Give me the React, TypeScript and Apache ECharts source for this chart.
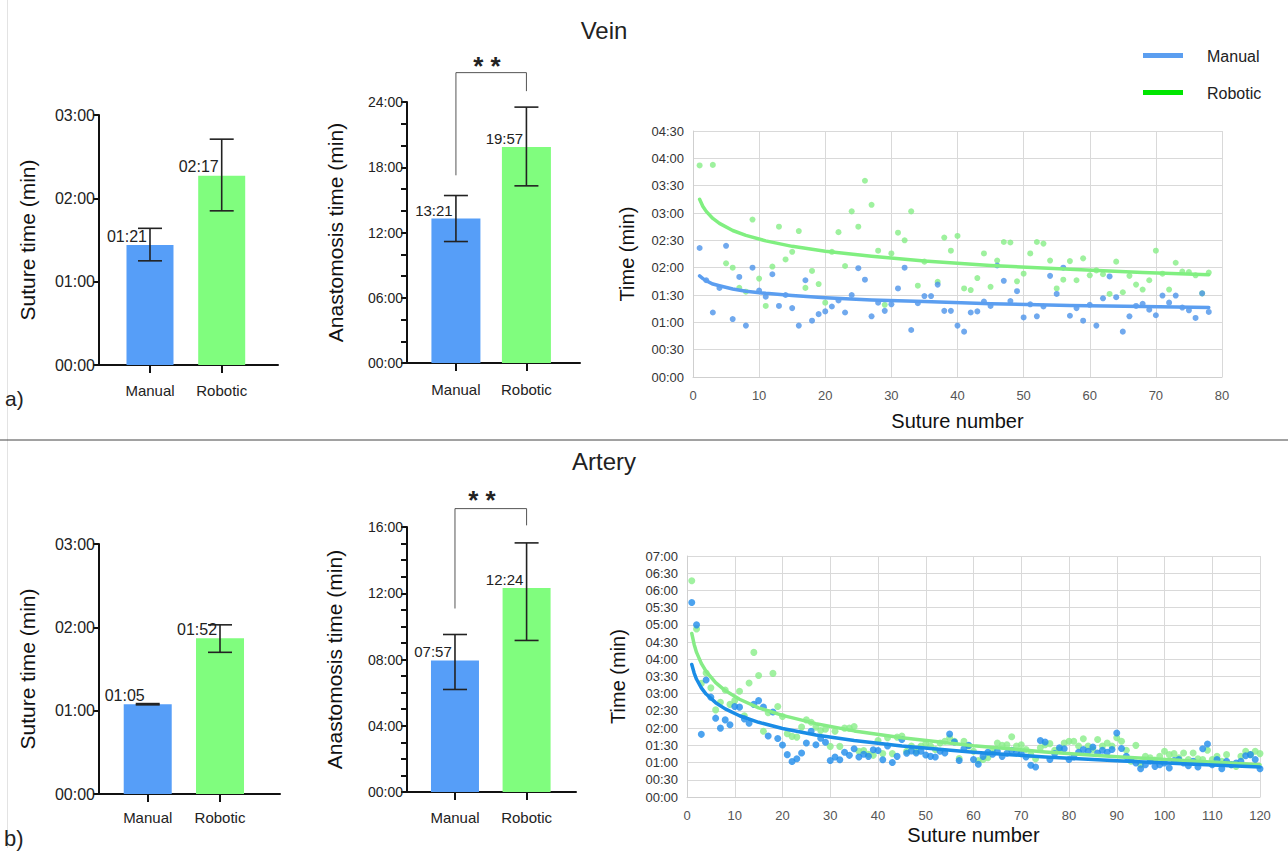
import React, { useEffect, useRef } from "react";
import * as echarts from "echarts";

// ---------- DATA (times in minutes) ----------
const categories = ["Manual", "Robotic"];

const veinSutureMean = [1.44, 2.27];
const veinSutureLow = [1.25, 1.85];
const veinSutureHigh = [1.64, 2.71];
const veinSutureLabels = ["01:21", "02:17"];

const veinAnastMean = [13.28, 19.87];
const veinAnastLow = [11.17, 16.29];
const veinAnastHigh = [15.4, 23.53];
const veinAnastLabels = ["13:21", "19:57"];

const arterySutureMean = [1.077, 1.87];
const arterySutureLow = [1.07, 1.7];
const arterySutureHigh = [1.085, 2.03];
const arterySutureLabels = ["01:05", "01:52"];

const arteryAnastMean = [7.94, 12.32];
const arteryAnastLow = [6.19, 9.15];
const arteryAnastHigh = [9.51, 15.04];
const arteryAnastLabels = ["07:57", "12:24"];

// significance brackets: [left leg bottom, top, right leg bottom]
const veinBracket = [17.26, 26.7, 25.0];
const arteryBracket = [11.08, 17.11, 16.1];
const sigText = "* *";

// scatter: suture number = index + 1
const veinManualTimes = [
  2.36, 1.77, 1.18, 1.63, 2.4, 1.06, 1.83, 0.94, 2.0, 1.58,
  1.47, 1.88, 1.3, 1.5, 1.26, 0.94, 1.77, 1.03, 1.15, 1.2,
  1.29, 1.4, 1.18, 1.5, 1.99, 1.78, 1.11, 1.36, 1.21, 1.33,
  1.62, 2.0, 0.86, 1.35, 1.48, 1.48, 1.69, 1.21, 1.21, 0.94,
  0.83, 1.18, 1.2, 1.38, 1.3, 2.04, 1.76, 1.39, 1.57, 1.09,
  1.33, 1.11, 1.29, 1.85, 1.52, 2.0, 1.12, 1.26, 1.03, 1.32,
  0.94, 1.44, 1.84, 1.46, 0.83, 1.11, 1.3, 1.34, 1.23, 1.13,
  1.49, 1.36, 1.49, 1.27, 1.22, 1.08, 1.53, 1.19,
];
const veinRoboticTimes = [
  3.87, null, 3.88, null, 2.08, 2.0, 1.63, 1.56, 2.88, 1.8,
  1.3, 2.02, 2.75, 2.15, 2.29, 2.67, 1.63, 1.94, 1.7, 1.36,
  2.29, 2.65, 2.03, 3.03, 2.75, 3.59, 3.15, 2.31, 1.32, 2.26,
  2.64, 2.5, 3.03, 1.67, 2.11, null, 1.74, 2.55, 2.31, 2.58,
  1.62, 1.59, 1.81, 2.26, 1.65, 2.13, 2.47, 2.46, 1.75, 1.89,
  2.26, 2.47, 2.44, 2.13, 1.62, 1.78, 2.12, 1.77, 2.17, 1.86,
  1.95, 1.88, 1.52, 2.11, 1.55, 1.85, 1.69, 1.6, 1.77, 2.31,
  1.89, 1.6, 2.09, 1.93, 1.92, 1.86, 1.53, 1.91,
];
// trend lines
const veinTrendX = [1, 1.5, 2, 3, 4, 6, 8, 11, 15, 20, 27, 35, 45, 57, 68, 78];
const veinManualTrend = [1.85, 1.8, 1.76, 1.7, 1.67, 1.61, 1.57, 1.53, 1.49, 1.45, 1.41, 1.38, 1.34, 1.31, 1.29, 1.27];
const veinRoboticTrend = [3.25, 3.12, 3.03, 2.9, 2.81, 2.68, 2.59, 2.49, 2.39, 2.3, 2.21, 2.12, 2.04, 1.97, 1.91, 1.87];

const arteryManualTimes = [
  5.65, 5.0, 1.82, 3.4, 2.9, 2.29, 2.0, 2.24, 2.1, 2.63,
  2.61, 2.27, 2.14, 2.69, 2.8, 2.61, 1.77, 2.47, 1.7, 1.51,
  1.23, 1.03, 1.11, 1.28, 1.57, 1.91, 1.52, 1.71, 1.59, 1.06,
  1.16, 1.08, 1.3, 1.21, 1.4, 1.16, 1.24, 1.18, 1.37, 1.35,
  1.08, 1.48, 1.0, 1.18, 1.67, 1.27, 1.34, 1.28, 1.33, 1.22,
  1.18, 1.16, 1.33, 1.28, 1.83, 1.6, 1.06, 1.4, 1.5, 1.09,
  0.95, 1.18, 1.3, 1.24, 1.33, 1.18, 1.27, 1.36, 1.3, 1.26,
  1.16, 0.92, 0.87, 1.64, 1.6, 1.09, 1.26, 1.43, 1.4, 1.09,
  1.16, 1.3, 1.38, 1.33, 1.45, 1.28, 1.36, 1.3, 1.38, 1.86,
  1.41, 1.18, 1.09, 0.99, 0.82, 0.94, 1.04, 0.89, 0.94, 0.99,
  0.84, 1.06, 1.09, 0.99, 0.91, 1.04, 0.87, 1.4, 1.54, 0.94,
  1.09, 0.82, 1.04, 0.94, 0.99, 1.04, 1.2, 1.23, 1.09, 0.82,
];
const arteryRoboticTimes = [
  6.28, 4.88, 3.3, 3.6, 3.17, 2.53, 2.75, 3.11, 2.69, 2.8,
  3.07, 2.36, 3.31, 4.2, 3.53, 1.91, 2.45, 3.59, 2.63, 2.34,
  1.84, 1.76, 1.74, 2.03, 2.24, 2.17, 2.03, 1.93, 1.97, 1.47,
  1.91, 1.47, 2.0, 2.0, 2.05, 1.33, 1.35, 1.24, 1.21, 1.64,
  1.26, 1.72, 1.26, 1.74, 1.77, 1.33, 1.48, 1.33, 1.48, 1.55,
  1.48, 1.38, 1.57, 1.62, 1.72, 1.62, 1.12, 1.62, 1.48, 1.33,
  1.06, 1.09, 1.14, 1.33, 1.57, 1.5, 1.52, 1.75, 1.48, 1.52,
  1.38, 1.23, 1.11, 1.43, 1.52, 1.55, 1.36, 1.38, 1.57, 1.62,
  1.62, 1.48, 1.69, 1.48, 1.38, 1.67, 1.48, 1.57, 1.48, 1.72,
  1.62, 1.36, 1.04, 1.5, 0.94, 1.18, 1.14, 1.07, 1.18, 1.33,
  1.23, 1.26, 1.14, 1.28, 1.09, 1.28, 1.11, 1.09, 1.36, 1.09,
  1.18, 1.04, 1.23, 0.94, 0.89, 1.18, 1.33, 1.23, 1.33, 1.26,
];
const arteryTrendX = [1, 1.5, 2, 3, 4, 6, 8, 11, 15, 20, 27, 35, 45, 60, 75, 90, 105, 120];
const arteryManualTrend = [3.85, 3.6, 3.42, 3.17, 2.99, 2.74, 2.56, 2.36, 2.17, 1.99, 1.8, 1.64, 1.48, 1.3, 1.16, 1.05, 0.96, 0.87];
const arteryRoboticTrend = [4.75, 4.43, 4.2, 3.88, 3.65, 3.32, 3.09, 2.84, 2.59, 2.37, 2.13, 1.92, 1.72, 1.49, 1.31, 1.17, 1.05, 0.94];

// ---------- helpers ----------
const FONT = "'Liberation Sans', Arial, Helvetica, sans-serif";
const NARROW = "'Liberation Sans Narrow', 'Liberation Sans', Arial, sans-serif";
const BAR_COLORS = ["#569ef8", "#80fd7e"];

const fmt = (v: number) => {
  const s = Math.round(v * 60);
  const m = Math.floor(s / 60);
  const ss = s % 60;
  return `${String(m).padStart(2, "0")}:${String(ss).padStart(2, "0")}`;
};

const toPairs = (arr: (number | null)[]) =>
  arr.map((v, i) => (v == null ? null : [i + 1, v])).filter((d) => d != null);

const zip = (xs: number[], ys: number[]) => xs.map((x, i) => [x, ys[i]]);

type BarCfg = {
  grid: { left: number; top: number; width: number; height: number };
  xMin: number;
  xMax: number;
  yMax: number;
  tickInt: number;
  labelEvery: number;
  mean: number[];
  low: number[];
  high: number[];
  labels: string[];
  barWidth: number;
  valueFont: number;
  valueOffset: number;
  tickFont: number;
  yName: string;
  nameGap: number;
  catMargin: number;
  bracket?: number[];
};

function buildBarPanel(idx: number, c: BarCfg) {
  const grid = { ...c.grid, containLabel: false };
  const xAxis = {
    gridIndex: idx,
    type: "value",
    min: c.xMin,
    max: c.xMax,
    axisLine: { show: true, onZero: false, lineStyle: { color: "#111", width: 2 } },
    axisTick: { show: true, customValues: [1, 2], length: 8, lineStyle: { color: "#111", width: 2 } },
    axisLabel: {
      customValues: [1, 2],
      formatter: (v: number) => categories[Math.round(v) - 1] ?? "",
      fontSize: 15,
      color: "#222",
      fontFamily: FONT,
      margin: c.catMargin,
    },
    splitLine: { show: false },
  };
  const yAxis = {
    gridIndex: idx,
    type: "value",
    min: 0,
    max: c.yMax,
    interval: c.tickInt,
    axisLine: { show: true, onZero: false, lineStyle: { color: "#111", width: 2 } },
    axisTick: { show: true, length: 6, lineStyle: { color: "#111", width: 2 } },
    axisLabel: {
      formatter: (v: number) => (Math.round(v) % c.labelEvery === 0 ? fmt(v) : ""),
      fontSize: c.tickFont,
      color: "#222",
      fontFamily: FONT,
      margin: 4,
    },
    splitLine: { show: false },
    name: c.yName,
    nameLocation: "middle",
    nameGap: c.nameGap,
    nameTextStyle: { fontSize: 21, color: "#111", fontFamily: FONT },
  };
  const series: any[] = [
    {
      type: "bar",
      xAxisIndex: idx,
      yAxisIndex: idx,
      barWidth: c.barWidth,
      data: c.mean.map((v, i) => ({
        value: [i + 1, v],
        itemStyle: { color: BAR_COLORS[i] },
        label: {
          show: true,
          position: "top",
          distance: 1,
          offset: [c.valueOffset, 0],
          formatter: c.labels[i],
          fontSize: c.valueFont,
          color: "#222",
          fontFamily: FONT,
        },
      })),
    },
    {
      type: "custom",
      xAxisIndex: idx,
      yAxisIndex: idx,
      z: 5,
      data: c.mean.map((_, i) => [i + 1, c.low[i], c.high[i]]),
      encode: { x: 0, y: [1, 2] },
      renderItem: (params: any, api: any) => {
        const x = api.value(0);
        const lo = api.coord([x, api.value(1)]);
        const hi = api.coord([x, api.value(2)]);
        const half = 12;
        const style = { stroke: "#222", lineWidth: 1.6 };
        return {
          type: "group",
          children: [
            { type: "line", shape: { x1: lo[0], y1: lo[1], x2: hi[0], y2: hi[1] }, style },
            { type: "line", shape: { x1: lo[0] - half, y1: lo[1], x2: lo[0] + half, y2: lo[1] }, style },
            { type: "line", shape: { x1: hi[0] - half, y1: hi[1], x2: hi[0] + half, y2: hi[1] }, style },
          ],
        };
      },
    },
  ];
  if (c.bracket) {
    series.push({
      type: "line",
      xAxisIndex: idx,
      yAxisIndex: idx,
      clip: false,
      symbol: "none",
      lineStyle: { color: "#555", width: 1 },
      data: [
        [1, c.bracket[0]],
        [1, c.bracket[1]],
        [2, c.bracket[1]],
        [2, c.bracket[2]],
      ],
    });
  }
  return { grid, xAxis, yAxis, series };
}

type ScatterCfg = {
  grid: { left: number; top: number; width: number; height: number };
  xMax: number;
  yMax: number;
  manual: (number | null)[];
  robotic: (number | null)[];
  trendX: number[];
  manualTrend: number[];
  roboticTrend: number[];
  colors: { mDot: string; rDot: string; mLine: string; rLine: string };
  symbolSize: number;
  lineWidth: number;
  yNameGap: number;
  xNameGap: number;
};

function buildScatterPanel(idx: number, c: ScatterCfg) {
  const grid = { ...c.grid, containLabel: false };
  const gridLine = { show: true, lineStyle: { color: "#d9d9d9", width: 1 } };
  const xAxis = {
    gridIndex: idx,
    type: "value",
    min: 0,
    max: c.xMax,
    interval: 10,
    axisLine: { show: true, onZero: false, lineStyle: { color: "#cfcfcf", width: 1 } },
    axisTick: { show: false },
    axisLabel: { fontSize: 13, color: "#555", fontFamily: NARROW, margin: 12 },
    splitLine: gridLine,
    name: "Suture number",
    nameLocation: "middle",
    nameGap: c.xNameGap,
    nameTextStyle: { fontSize: 20, color: "#111", fontFamily: FONT },
  };
  const yAxis = {
    gridIndex: idx,
    type: "value",
    min: 0,
    max: c.yMax,
    interval: 0.5,
    axisLine: { show: true, onZero: false, lineStyle: { color: "#cfcfcf", width: 1 } },
    axisTick: { show: false },
    axisLabel: { formatter: (v: number) => fmt(v), fontSize: 13, color: "#333", fontFamily: FONT, margin: 9 },
    splitLine: gridLine,
    name: "Time (min)",
    nameLocation: "middle",
    nameGap: c.yNameGap,
    nameTextStyle: { fontSize: 20, color: "#111", fontFamily: FONT },
  };
  const series = [
    {
      type: "scatter",
      xAxisIndex: idx,
      yAxisIndex: idx,
      symbolSize: c.symbolSize,
      itemStyle: { color: c.colors.rDot },
      data: toPairs(c.robotic),
      z: 2,
    },
    {
      type: "scatter",
      xAxisIndex: idx,
      yAxisIndex: idx,
      symbolSize: c.symbolSize,
      itemStyle: { color: c.colors.mDot },
      data: toPairs(c.manual),
      z: 3,
    },
    {
      type: "line",
      xAxisIndex: idx,
      yAxisIndex: idx,
      smooth: false,
      symbol: "none",
      lineStyle: { color: c.colors.rLine, width: c.lineWidth, cap: "round", join: "round" },
      data: zip(c.trendX, c.roboticTrend),
      z: 4,
    },
    {
      type: "line",
      xAxisIndex: idx,
      yAxisIndex: idx,
      smooth: false,
      symbol: "none",
      lineStyle: { color: c.colors.mLine, width: c.lineWidth, cap: "round", join: "round" },
      data: zip(c.trendX, c.manualTrend),
      z: 5,
    },
  ];
  return { grid, xAxis, yAxis, series };
}

export default function App() {
  const ref = useRef<HTMLDivElement>(null);

  useEffect(() => {
    if (!ref.current) return;
    const chart = echarts.init(ref.current, undefined, { renderer: "svg" });

    const panels = [
      buildBarPanel(0, {
        grid: { left: 99, top: 115, width: 179, height: 250 },
        xMin: 0.289, xMax: 2.785, yMax: 3, tickInt: 1, labelEvery: 1,
        mean: veinSutureMean, low: veinSutureLow, high: veinSutureHigh, labels: veinSutureLabels,
        barWidth: 47, valueFont: 16, valueOffset: -23, tickFont: 16,
        yName: "Suture time (min)", nameGap: 61, catMargin: 18,
      }),
      buildBarPanel(1, {
        grid: { left: 407, top: 102, width: 173, height: 261 },
        xMin: 0.306, xMax: 2.76, yMax: 24, tickInt: 2, labelEvery: 6,
        mean: veinAnastMean, low: veinAnastLow, high: veinAnastHigh, labels: veinAnastLabels,
        barWidth: 49, valueFont: 15, valueOffset: -22, tickFont: 14,
        yName: "Anastomosis time (min)", nameGap: 61, catMargin: 19,
        bracket: veinBracket,
      }),
      buildScatterPanel(2, {
        grid: { left: 693, top: 131, width: 529, height: 246 },
        xMax: 80, yMax: 4.5,
        manual: veinManualTimes, robotic: veinRoboticTimes,
        trendX: veinTrendX, manualTrend: veinManualTrend, roboticTrend: veinRoboticTrend,
        colors: { mDot: "#4c93ea", rDot: "#86ee86", mLine: "#5b9ef0", rLine: "#80ef80" },
        symbolSize: 6, lineWidth: 3.5, yNameGap: 56, xNameGap: 34,
      }),
      buildBarPanel(3, {
        grid: { left: 99, top: 544, width: 181, height: 250 },
        xMin: 0.326, xMax: 2.83, yMax: 3, tickInt: 1, labelEvery: 1,
        mean: arterySutureMean, low: arterySutureLow, high: arterySutureHigh, labels: arterySutureLabels,
        barWidth: 48, valueFont: 16, valueOffset: -23, tickFont: 16,
        yName: "Suture time (min)", nameGap: 61, catMargin: 16,
      }),
      buildBarPanel(4, {
        grid: { left: 407, top: 527, width: 169, height: 265 },
        xMin: 0.33, xMax: 2.69, yMax: 16, tickInt: 1, labelEvery: 4,
        mean: arteryAnastMean, low: arteryAnastLow, high: arteryAnastHigh, labels: arteryAnastLabels,
        barWidth: 48, valueFont: 15, valueOffset: -22, tickFont: 14,
        yName: "Anastomosis time (min)", nameGap: 62, catMargin: 18,
        bracket: arteryBracket,
      }),
      buildScatterPanel(5, {
        grid: { left: 687, top: 556, width: 573, height: 241 },
        xMax: 120, yMax: 7,
        manual: arteryManualTimes, robotic: arteryRoboticTimes,
        trendX: arteryTrendX, manualTrend: arteryManualTrend, roboticTrend: arteryRoboticTrend,
        colors: { mDot: "#1f8ceb", rDot: "#88ee88", mLine: "#1a8ce6", rLine: "#86ec86" },
        symbolSize: 7, lineWidth: 3.5, yNameGap: 59, xNameGap: 28,
      }),
    ];

    const option: any = {
      animation: false,
      backgroundColor: "#ffffff",
      textStyle: { fontFamily: FONT },
      grid: panels.map((p) => p.grid),
      xAxis: panels.map((p) => p.xAxis),
      yAxis: panels.map((p) => p.yAxis),
      series: panels.flatMap((p) => p.series),
      graphic: [
        { type: "line", shape: { x1: 7.5, y1: 0, x2: 7.5, y2: 848 }, style: { stroke: "#e3e3e3", lineWidth: 1 } },
        { type: "line", shape: { x1: 0, y1: 440, x2: 1288, y2: 440 }, style: { stroke: "#444", lineWidth: 1 } },
        {
          type: "text", x: 604, y: 30,
          style: { text: "Vein", fontSize: 24, fill: "#222", align: "center", verticalAlign: "middle", fontFamily: FONT },
        },
        {
          type: "text", x: 604, y: 461,
          style: { text: "Artery", fontSize: 24, fill: "#222", align: "center", verticalAlign: "middle", fontFamily: FONT },
        },
        {
          type: "text", x: 5, y: 398,
          style: { text: "a)", fontSize: 21, fill: "#222", verticalAlign: "middle", fontFamily: FONT },
        },
        {
          type: "text", x: 4, y: 838,
          style: { text: "b)", fontSize: 22, fill: "#222", verticalAlign: "middle", fontFamily: FONT },
        },
        {
          type: "text", x: 487, y: 66,
          style: { text: sigText, fontSize: 26, fontWeight: "bold", fill: "#222", align: "center", verticalAlign: "middle", fontFamily: FONT },
        },
        {
          type: "text", x: 482, y: 500,
          style: { text: sigText, fontSize: 26, fontWeight: "bold", fill: "#222", align: "center", verticalAlign: "middle", fontFamily: FONT },
        },
        { type: "rect", shape: { x: 1143, y: 53, width: 40, height: 5 }, style: { fill: "#5b9ef0" } },
        {
          type: "text", x: 1207, y: 56,
          style: { text: categories[0], fontSize: 16, fill: "#222", verticalAlign: "middle", fontFamily: FONT },
        },
        { type: "rect", shape: { x: 1143, y: 90, width: 40, height: 5 }, style: { fill: "#00e600" } },
        {
          type: "text", x: 1207, y: 93,
          style: { text: categories[1], fontSize: 16, fill: "#222", verticalAlign: "middle", fontFamily: FONT },
        },
      ],
    };

    chart.setOption(option);
    return () => chart.dispose();
  }, []);

  return (
    <div
      ref={ref}
      style={{ position: "fixed", left: 0, top: 0, width: 1288, height: 852, background: "#fff" }}
    />
  );
}
